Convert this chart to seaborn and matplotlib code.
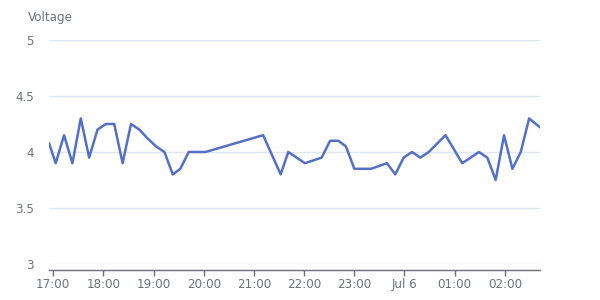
import matplotlib
matplotlib.use("Agg")
import matplotlib.pyplot as plt
import matplotlib.dates as mdates
import seaborn as sns
import pandas as pd

times = ["2024-07-05 16:55", "2024-07-05 17:03", "2024-07-05 17:13", "2024-07-05 17:23",
         "2024-07-05 17:33", "2024-07-05 17:43", "2024-07-05 17:53", "2024-07-05 18:03",
         "2024-07-05 18:13", "2024-07-05 18:23", "2024-07-05 18:33", "2024-07-05 18:43",
         "2024-07-05 18:53", "2024-07-05 19:03", "2024-07-05 19:13", "2024-07-05 19:23",
         "2024-07-05 19:32", "2024-07-05 19:42", "2024-07-05 20:02", "2024-07-05 21:11",
         "2024-07-05 21:32", "2024-07-05 21:41", "2024-07-05 22:01", "2024-07-05 22:21",
         "2024-07-05 22:31", "2024-07-05 22:41", "2024-07-05 22:50", "2024-07-05 23:00",
         "2024-07-05 23:20", "2024-07-05 23:39", "2024-07-05 23:49", "2024-07-05 23:59",
         "2024-07-06 00:09", "2024-07-06 00:19", "2024-07-06 00:29", "2024-07-06 00:49",
         "2024-07-06 01:09", "2024-07-06 01:29", "2024-07-06 01:39", "2024-07-06 01:49",
         "2024-07-06 01:59", "2024-07-06 02:09", "2024-07-06 02:19", "2024-07-06 02:29",
         "2024-07-06 02:42"]
voltage = [4.08, 3.9, 4.15, 3.9,
           4.3, 3.95, 4.2, 4.25,
           4.25, 3.9, 4.25, 4.2,
           4.12, 4.05, 4.0, 3.8,
           3.85, 4.0, 4.0, 4.15,
           3.8, 4.0, 3.9, 3.95,
           4.1, 4.1, 4.05, 3.85,
           3.85, 3.9, 3.8, 3.95,
           4.0, 3.95, 4.0, 4.15,
           3.9, 4.0, 3.95, 3.75,
           4.15, 3.85, 4.0, 4.3,
           4.22]
y_ticks = [3, 3.5, 4, 4.5, 5]
y_label = "Voltage"

df = pd.DataFrame({"time": pd.to_datetime(times), "voltage": voltage})

sns.set_theme(style="white")
plt.rcParams["font.family"] = ["DejaVu Sans"]

fig = plt.figure(figsize=(6, 3), dpi=100)
ax = fig.add_axes([49 / 600, 1 - 264 / 300, (540 - 49) / 600, (264 - 40) / 300])

sns.lineplot(data=df, x="time", y="voltage", ax=ax, color="#5470c6", linewidth=1.8)

ax.set_xlim(df["time"].iloc[0], df["time"].iloc[-1])
ax.set_ylim(3, 5)
ax.set_yticks(y_ticks)
ax.set_yticklabels([f"{v:g}" for v in y_ticks])

for v in y_ticks:
    ax.axhline(v, color="#E0E6F1", linewidth=1, zorder=0)

ax.xaxis.set_major_locator(mdates.HourLocator())


def fmt(x, pos=None):
    d = mdates.num2date(x)
    if d.hour == 0:
        return d.strftime("%b ") + str(d.day)
    return d.strftime("%H:%M")


ax.xaxis.set_major_formatter(plt.FuncFormatter(fmt))

for s in ["top", "right", "left"]:
    ax.spines[s].set_visible(False)
ax.spines["bottom"].set_color("#6E7079")
ax.spines["bottom"].set_linewidth(1)
ax.spines["bottom"].set_position(("outward", 4.3))

ax.tick_params(axis="x", which="major", bottom=True, length=4, width=1, color="#6E7079",
               labelcolor="#6E7079", labelsize=8.6, pad=1.5)
ax.tick_params(axis="y", left=False, labelcolor="#6E7079", labelsize=8.6, pad=5)
ax.set_xlabel("")
ax.set_ylabel("")
ax.grid(False)

fig.text(28 / 600, 1 - 17 / 300, y_label, color="#6E7079", fontsize=8.6, ha="left", va="center")

fig.savefig("out.png", dpi=100)
